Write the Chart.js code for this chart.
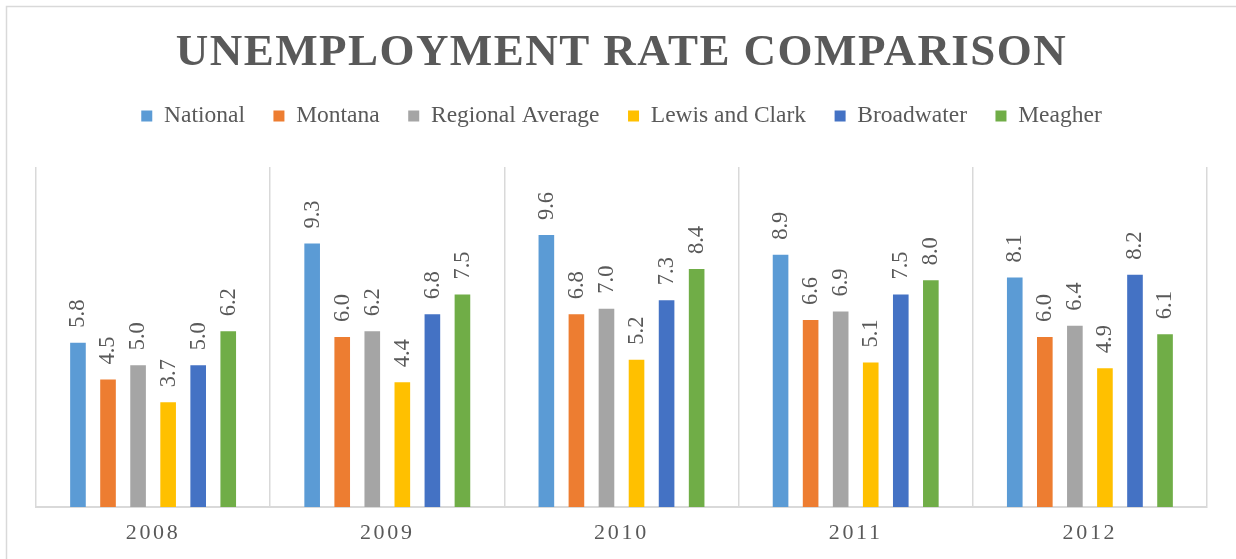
<!DOCTYPE html>
<html>
<head>
<meta charset="utf-8">
<script src="https://cdn.jsdelivr.net/npm/chart.js@4/dist/chart.umd.min.js"></script>
<style>
  html, body { margin: 0; padding: 0; background: #fff; }
  #wrap { position: relative; width: 1236px; height: 559px; }
</style>
</head>
<body>
<div id="wrap"><canvas id="chart" width="1236" height="559"></canvas></div>
<script>
// --- chart data ---
const years = ['2008', '2009', '2010', '2011', '2012'];
const national = [5.8, 9.3, 9.6, 8.9, 8.1];
const montana = [4.5, 6.0, 6.8, 6.6, 6.0];
const regionalAvg = [5.0, 6.2, 7.0, 6.9, 6.4];
const lewisClark = [3.7, 4.4, 5.2, 5.1, 4.9];
const broadwater = [5.0, 6.8, 7.3, 7.5, 8.2];
const meagher = [6.2, 7.5, 8.4, 8.0, 6.1];

const SERIF = "'Liberation Serif', 'Times New Roman', serif";
const TEXT = '#595959';
const LINE = '#d9d9d9';

// outer frame of the chart box
const framePlugin = {
    id: 'frame',
    beforeDraw(chart) {
        const ctx = chart.ctx;
        ctx.save();
        ctx.strokeStyle = LINE;
        ctx.lineWidth = 1.5;
        ctx.strokeRect(6.5, 6.5, 1400, 800);
        ctx.restore();
    }
};

// letter spacing on title + x labels, extra room under legend
const spacingPlugin = {
    id: 'spacing',
    beforeInit(chart) {
        const tb = chart.titleBlock;
        const drawTitle = tb.draw;
        tb.draw = function () {
            const c = this.ctx;
            c.save(); c.letterSpacing = '1.45px';
            drawTitle.apply(this, arguments);
            c.restore();
        };
        const lg = chart.legend;
        const fitLegend = lg.fit;
        lg.fit = function () {
            fitLegend.apply(this, arguments);
            this.height += 29.25;
        };
    },
    afterUpdate(chart) {
        const sx = chart.scales.x;
        if (sx && !sx._spaced) {
            const drawLabels = sx.drawLabels;
            sx.drawLabels = function () {
                const c = this.ctx;
                c.save(); c.letterSpacing = '2.7px';
                drawLabels.apply(this, arguments);
                c.restore();
            };
            sx._spaced = true;
        }
    }
};

// rotated value labels above each bar
const valueLabels = {
    id: 'valueLabels',
    afterDatasetsDraw(chart) {
        const ctx = chart.ctx;
        ctx.save();
        ctx.font = '22.5px ' + SERIF;
        ctx.fillStyle = TEXT;
        ctx.textAlign = 'left';
        ctx.textBaseline = 'middle';
        chart.data.datasets.forEach((ds, i) => {
            chart.getDatasetMeta(i).data.forEach((bar, j) => {
                ctx.save();
                ctx.translate(bar.x + 0.5, bar.y - 15);
                ctx.rotate(-Math.PI / 2);
                ctx.fillText(ds.data[j].toFixed(1), 0, 0);
                ctx.restore();
            });
        });
        ctx.restore();
    }
};

const series = [
    { label: 'National', data: national, color: '#5B9BD5' },
    { label: 'Montana', data: montana, color: '#ED7D31' },
    { label: 'Regional Average', data: regionalAvg, color: '#A5A5A5' },
    { label: 'Lewis and Clark', data: lewisClark, color: '#FFC000' },
    { label: 'Broadwater', data: broadwater, color: '#4472C4' },
    { label: 'Meagher', data: meagher, color: '#70AD47' }
];

new Chart(document.getElementById('chart'), {
    type: 'bar',
    data: {
        labels: years,
        datasets: series.map(s => ({
            label: s.label, data: s.data,
            backgroundColor: s.color, borderWidth: 0,
            categoryPercentage: 0.77, barPercentage: 0.52
        }))
    },
    options: {
        responsive: false, animation: false,
        layout: { padding: { left: 36, right: 29, top: 0, bottom: 0 } },
        plugins: {
            title: {
                display: true, text: 'UNEMPLOYMENT RATE COMPARISON', color: TEXT,
                font: { family: SERIF, size: 45, weight: 'bold', lineHeight: 1.0 },
                padding: { top: 30.5, bottom: 0.25 }
            },
            legend: {
                position: 'top',
                labels: {
                    color: TEXT, boxWidth: 11, boxHeight: 11, padding: 28.5,
                    font: { family: SERIF, size: 23.5 }
                }
            },
            tooltip: { enabled: false }
        },
        scales: {
            x: {
                grid: { color: LINE, lineWidth: 1.5, drawTicks: false, offset: true },
                border: { color: LINE, width: 2 },
                ticks: { color: TEXT, padding: 12.8, font: { family: SERIF, size: 22 } }
            },
            y: { display: false, min: 0, max: 12 }
        }
    },
    plugins: [framePlugin, spacingPlugin, valueLabels]
});
</script>
</body>
</html>
